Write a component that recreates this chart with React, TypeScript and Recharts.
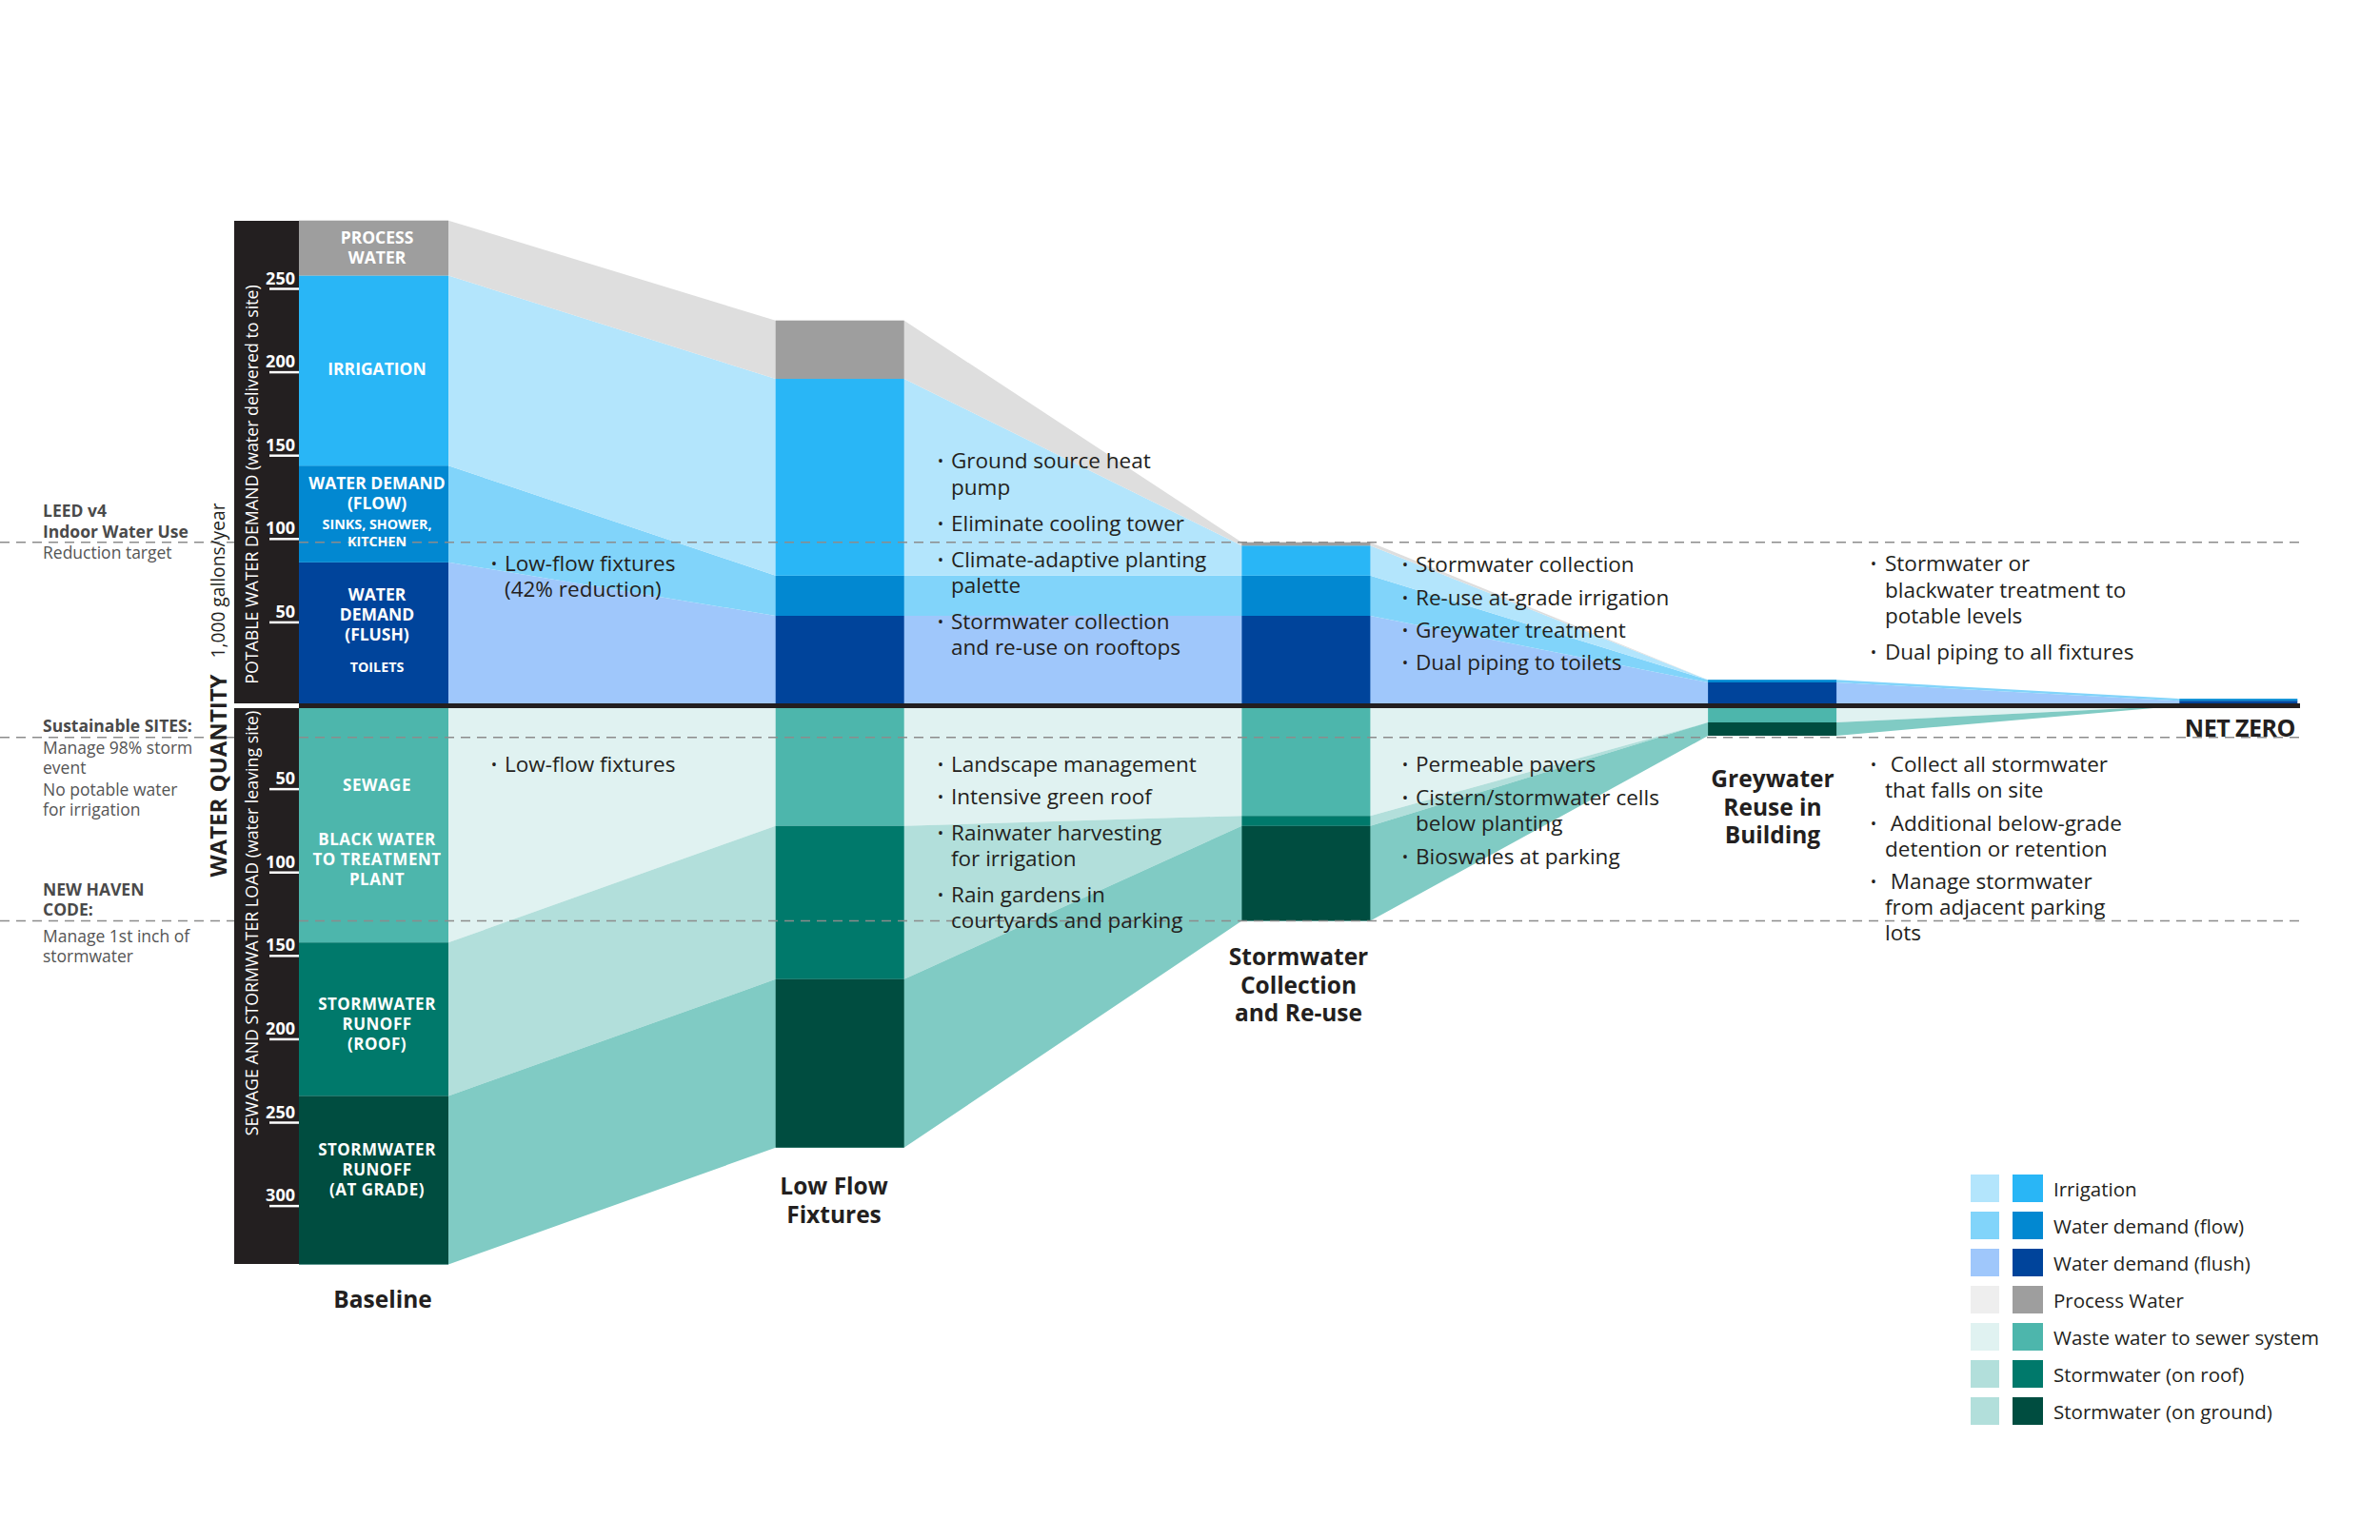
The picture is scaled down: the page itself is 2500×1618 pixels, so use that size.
import React from 'react';
import { ComposedChart, Area, XAxis, YAxis, ReferenceLine } from 'recharts';

const FONT = "'Open Sans', 'Noto Sans', 'DejaVu Sans', sans-serif";

// ---------------- data (1,000 gallons / year) ----------------
const STAGES = ['Baseline', 'Low Flow Fixtures', 'Stormwater Collection and Re-use', 'Greywater Reuse in Building', 'Net Zero'];
// potable water demand (above the line)
const FLUSH = [86, 54, 54, 14, 3];
const FLOW = [58, 24, 24, 1.5, 1.2];
const IRRIGATION = [114, 118, 18, 0, 0];
const PROCESS = [33, 35, 2, 0, 0];
// sewage and stormwater load (below the line)
const SEWAGE = [-142, -72, -66, -10, 0];
const ROOF = [-92, -92, -6, 0, 0];
const GRADE = [-101, -101, -57, -8, 0];
// axis ticks and target lines
const Y_TICKS = [-300, -250, -200, -150, -100, -50, 50, 100, 150, 200, 250];
const TARGET_LINES = [98, -19, -129]; // LEED v4, Sustainable SITES, New Haven code
const LEGEND_LABELS = ['Irrigation', 'Water demand (flow)', 'Water demand (flush)', 'Process Water', 'Waste water to sewer system', 'Stormwater (on roof)', 'Stormwater (on ground)'];

// ---------------- layout / style ----------------
const W = 2500;
const H = 1618;
const AXIS_LEFT = 246;
const AXIS_W = 68;
const PLOT_LEFT = AXIS_LEFT + AXIS_W;
const PLOT_RIGHT = 2416;
const PLOT_TOP = 215.9;
const PLOT_BOTTOM = 1337.2;
const Y_MIN = -340;
const Y_MAX = 300;
const STAGE_SPACING = 489.7; // px between stage centres
const HALF_W = [0.1603, 0.1378, 0.1378, 0.1378, 0.1265];
const X_MIN = -HALF_W[0];
const X_MAX = X_MIN + (PLOT_RIGHT - PLOT_LEFT) / STAGE_SPACING;

const SERIES = [
  { key: 'flush', values: FLUSH, stack: 'pos', light: '#9fc7fb', dark: '#00449b' },
  { key: 'flow', values: FLOW, stack: 'pos', light: '#81d4fa', dark: '#0288d1' },
  { key: 'irrigation', values: IRRIGATION, stack: 'pos', light: '#b3e5fc', dark: '#29b6f6' },
  { key: 'process', values: PROCESS, stack: 'pos', light: '#dedede', dark: '#9e9e9e' },
  { key: 'sewage', values: SEWAGE, stack: 'neg', light: '#e0f2f1', dark: '#4db6ac' },
  { key: 'roof', values: ROOF, stack: 'neg', light: '#b2dfdb', dark: '#00796b' },
  { key: 'grade', values: GRADE, stack: 'neg', light: '#80cbc4', dark: '#004d40' },
];
const LEGEND_LIGHT = ['#b3e5fc', '#81d4fa', '#9fc7fb', '#eeeeee', '#e0f2f1', '#b2dfdb', '#b2dfdb'];
const LEGEND_DARK = ['#29b6f6', '#0288d1', '#00449b', '#9e9e9e', '#4db6ac', '#00796b', '#004d40'];

const yPx = (v: number) => PLOT_TOP + ((Y_MAX - v) / (Y_MAX - Y_MIN)) * (PLOT_BOTTOM - PLOT_TOP);

function buildRows() {
  const rows: any[] = [];
  const point = (x: number, i: number, withBars: boolean) => {
    const r: any = { x, stage: STAGES[i] };
    SERIES.forEach((s) => {
      r[s.key + 'L'] = s.values[i];
      r[s.key + 'D'] = withBars ? s.values[i] : 0;
    });
    return r;
  };
  STAGES.forEach((_, i) => {
    rows.push(point(i - HALF_W[i], i, true));
    rows.push(point(i + HALF_W[i], i, true));
    if (i < STAGES.length - 1) {
      rows.push(point(i + HALF_W[i], i, false));
      rows.push(point(i + 1 - HALF_W[i + 1], i + 1, false));
    }
  });
  return rows;
}

const YTick = (props: any) => {
  const { x, y, payload } = props;
  return (
    <g>
      <text x={x - 4} y={y - 5} textAnchor="end" fill="#ffffff" fontSize={18} fontWeight={700} fontFamily={FONT}>
        {Math.abs(payload.value)}
      </text>
      <line x1={x - 31} x2={x} y1={y} y2={y} stroke="#ffffff" strokeWidth={2.5} />
    </g>
  );
};

type TP = { x: number; y: number; s?: number; w?: number; c?: string; a?: 'start' | 'middle' | 'end'; ls?: number; children: React.ReactNode };
const T = ({ x, y, s = 22, w = 400, c = '#231f20', a = 'start', ls = 0, children }: TP) => (
  <div
    style={{
      position: 'absolute',
      left: x,
      top: y - s * 0.46,
      fontSize: s,
      fontWeight: w,
      color: c,
      lineHeight: 1,
      whiteSpace: 'nowrap',
      letterSpacing: ls,
      transform: a === 'middle' ? 'translateX(-50%)' : a === 'end' ? 'translateX(-100%)' : undefined,
    }}
  >
    {children}
  </div>
);

// multi-line centred block; y is the visual centre of the first line
const Block = ({ x, y, s, lh, lines }: { x: number; y: number; s: number; lh: number; lines: string[] }) => (
  <div
    style={{
      position: 'absolute',
      left: x,
      top: y - lh / 2 + 0.04 * s,
      fontSize: s,
      fontWeight: 700,
      color: '#231f20',
      lineHeight: lh + 'px',
      whiteSpace: 'nowrap',
      textAlign: 'center',
      transform: 'translateX(-50%)',
    }}
  >
    {lines.map((l, i) => (
      <div key={i}>{l}</div>
    ))}
  </div>
);

const R = ({ x, y, s, w = 400, c, children }: { x: number; y: number; s: number; w?: number; c: string; children: React.ReactNode }) => (
  <div
    style={{
      position: 'absolute',
      left: x,
      top: y,
      fontSize: s,
      fontWeight: w,
      color: c,
      lineHeight: 1,
      whiteSpace: 'nowrap',
      transform: 'translate(-50%, -50%) rotate(-90deg)',
    }}
  >
    {children}
  </div>
);

type Line = [string, number, boolean];
const NOTES: { x: number; b: number; lines: Line[] }[] = [
  { x: 530, b: 519, lines: [['Low-flow fixtures', 591, true], ['(42% reduction)', 618, false]] },
  { x: 530, b: 519, lines: [['Low-flow fixtures', 802, true]] },
  {
    x: 999, b: 988,
    lines: [
      ['Ground source heat', 483, true], ['pump', 511, false], ['Eliminate cooling tower', 549, true],
      ['Climate-adaptive planting', 587, true], ['palette', 614, false], ['Stormwater collection', 652, true],
      ['and re-use on rooftops', 679, false],
    ],
  },
  {
    x: 999, b: 988,
    lines: [
      ['Landscape management', 802, true], ['Intensive green roof', 836, true], ['Rainwater harvesting', 874, true],
      ['for irrigation', 901, false], ['Rain gardens in', 939, true], ['courtyards and parking', 966, false],
    ],
  },
  {
    x: 1487, b: 1476,
    lines: [
      ['Stormwater collection', 592, true], ['Re-use at-grade irrigation', 627, true],
      ['Greywater treatment', 661, true], ['Dual piping to toilets', 695, true],
    ],
  },
  {
    x: 1487, b: 1476,
    lines: [
      ['Permeable pavers', 802, true], ['Cistern/stormwater cells', 837, true], ['below planting', 864, false],
      ['Bioswales at parking', 899, true],
    ],
  },
  {
    x: 1980, b: 1968,
    lines: [
      ['Stormwater or', 591, true], ['blackwater treatment to', 619, false], ['potable levels', 646, false],
      ['Dual piping to all fixtures', 684, true],
    ],
  },
  {
    x: 1980, b: 1968,
    lines: [
      ['\u00a0Collect all stormwater', 802, true], ['that falls on site', 829, false],
      ['\u00a0Additional below-grade', 864, true], ['detention or retention', 891, false],
      ['\u00a0Manage stormwater', 925, true], ['from adjacent parking', 952, false], ['lots', 979, false],
    ],
  },
];

type SideLine = [string, number, boolean];
const SIDE: SideLine[] = [
  ['LEED v4', 536, true], ['Indoor Water Use', 558, true], ['Reduction target', 580, false],
  ['Sustainable SITES:', 762, true], ['Manage 98% storm', 785, false], ['event', 806, false],
  ['No potable water', 829, false], ['for irrigation', 850, false],
  ['NEW HAVEN', 934, true], ['CODE:', 955, true], ['Manage 1st inch of', 983, false], ['stormwater', 1004, false],
];

type BarLabel = [string, number, number];
const BAR_LABELS: BarLabel[] = [
  ['PROCESS', 249, 17.5], ['WATER', 270, 17.5], ['IRRIGATION', 387, 17.5],
  ['WATER DEMAND', 507, 17.5], ['(FLOW)', 528, 17.5], ['SINKS, SHOWER,', 551, 14.3], ['KITCHEN', 568.5, 14.3],
  ['WATER', 624, 17.5], ['DEMAND', 645, 17.5], ['(FLUSH)', 666, 17.5], ['TOILETS', 701, 14.3],
  ['SEWAGE', 824, 17], ['BLACK WATER', 881, 17], ['TO TREATMENT', 902, 17], ['PLANT', 923, 17],
  ['STORMWATER', 1054, 17], ['RUNOFF', 1075, 17], ['(ROOF)', 1096, 17],
  ['STORMWATER', 1207, 17], ['RUNOFF', 1228, 17], ['(AT GRADE)', 1249, 17],
];

const STAGE_LABELS: { lines: string[]; x: number; y: number; lh: number }[] = [
  { lines: ['Baseline'], x: 402, y: 1364, lh: 30 },
  { lines: ['Low Flow', 'Fixtures'], x: 876, y: 1245, lh: 30 },
  { lines: ['Stormwater', 'Collection', 'and Re-use'], x: 1364, y: 1004, lh: 29.5 },
  { lines: ['Greywater', 'Reuse in', 'Building'], x: 1862, y: 817, lh: 29.5 },
];

export default function App() {
  const rows = buildRows();
  const baseTop = FLUSH[0] + FLOW[0] + IRRIGATION[0] + PROCESS[0];
  const baseBottom = SEWAGE[0] + ROOF[0] + GRADE[0];
  return (
    <div style={{ position: 'absolute', left: 0, top: 0, width: W, height: H, background: '#ffffff', overflow: 'hidden', fontFamily: FONT }}>
      {/* black axis bands */}
      <div style={{ position: 'absolute', left: AXIS_LEFT, width: AXIS_W, top: yPx(baseTop), height: yPx(0) - 2.5 - yPx(baseTop), background: '#231f20' }} />
      <div style={{ position: 'absolute', left: AXIS_LEFT, width: AXIS_W, top: yPx(0) + 2.5, height: yPx(baseBottom) - yPx(0) - 2.5, background: '#231f20' }} />
      {/* dashed target lines left of the axis */}
      <svg style={{ position: 'absolute', left: 0, top: 0 }} width={AXIS_LEFT} height={H}>
        {TARGET_LINES.map((t) => (
          <line key={t} x1={0} x2={AXIS_LEFT} y1={yPx(t)} y2={yPx(t)} stroke="#8c8c8c" strokeWidth={1.5} strokeDasharray="10 7" />
        ))}
      </svg>
      <div style={{ position: 'absolute', left: 0, top: 0 }}>
        <ComposedChart
          width={W}
          height={H}
          data={rows}
          margin={{ top: PLOT_TOP, right: W - PLOT_RIGHT, bottom: H - PLOT_BOTTOM, left: AXIS_LEFT }}
        >
          <XAxis type="number" dataKey="x" domain={[X_MIN, X_MAX]} hide allowDataOverflow />
          <YAxis
            type="number"
            domain={[Y_MIN, Y_MAX]}
            ticks={Y_TICKS}
            interval={0}
            width={AXIS_W}
            axisLine={false}
            tickLine={false}
            tickSize={0}
            tickMargin={0}
            tick={<YTick />}
            allowDataOverflow
          />
          {SERIES.map((s) => (
            <Area
              key={s.key + 'L'}
              dataKey={s.key + 'L'}
              stackId={s.stack + 'L'}
              type="linear"
              stroke="none"
              fill={s.light}
              fillOpacity={1}
              dot={false}
              activeDot={false}
              isAnimationActive={false}
            />
          ))}
          {SERIES.map((s) => (
            <Area
              key={s.key + 'D'}
              dataKey={s.key + 'D'}
              stackId={s.stack + 'D'}
              type="linear"
              stroke="none"
              fill={s.dark}
              fillOpacity={1}
              dot={false}
              activeDot={false}
              isAnimationActive={false}
            />
          ))}
          <ReferenceLine y={0} stroke="#231f20" strokeWidth={5} />
          {TARGET_LINES.map((t) => (
            <ReferenceLine key={'t' + t} y={t} stroke="#8c8c8c" strokeWidth={1.5} strokeDasharray="10 7" />
          ))}
        </ComposedChart>
      </div>

      {/* rotated axis titles */}
      <R x={265} y={509} s={17.8} c="#ffffff">POTABLE WATER DEMAND (water delivered to site)</R>
      <R x={265} y={970} s={17.8} c="#ffffff">SEWAGE AND STORMWATER LOAD (water leaving site)</R>
      <R x={229} y={610} s={19.2} c="#231f20">1,000 gallons/year</R>
      <R x={229} y={815} s={24} w={700} c="#231f20">WATER QUANTITY</R>

      {/* left side notes */}
      {SIDE.map(([t, y, b], i) => (
        <T key={'s' + i} x={45} y={y} s={17.5} w={b ? 700 : 400} c={b ? '#4a4a4a' : '#555555'}>{t}</T>
      ))}

      {/* labels inside the baseline bar */}
      {BAR_LABELS.map(([t, y, s], i) => (
        <T key={'b' + i} x={396} y={y} s={s} w={700} c="#ffffff" a="middle" ls={y > 741 ? 0.5 : 0}>{t}</T>
      ))}

      {/* stage names */}
      {STAGE_LABELS.map((g, i) => (
        <Block key={'g' + i} x={g.x} y={g.y} s={24.5} lh={g.lh} lines={g.lines} />
      ))}
      <T x={2411} y={763} s={25} w={700} a="end" ls={-0.5}>NET ZERO</T>

      {/* strategy notes */}
      {NOTES.map((n, k) =>
        n.lines.map(([t, y, bullet], i) => (
          <React.Fragment key={'n' + k + '-' + i}>
            {bullet && <T x={n.b} y={y} s={17} a="middle">•</T>}
            <T x={n.x} y={y} s={22.5}>{t}</T>
          </React.Fragment>
        ))
      )}

      {/* legend */}
      {LEGEND_LABELS.map((label, i) => {
        const cy = 1248 + 39 * i;
        return (
          <React.Fragment key={'l' + i}>
            <div style={{ position: 'absolute', left: 2070, top: cy - 14.5, width: 30, height: 29, background: LEGEND_LIGHT[i] }} />
            <div style={{ position: 'absolute', left: 2114, top: cy - 14.5, width: 32, height: 29, background: LEGEND_DARK[i] }} />
            <T x={2157} y={cy} s={20.5}>{label}</T>
          </React.Fragment>
        );
      })}
    </div>
  );
}
